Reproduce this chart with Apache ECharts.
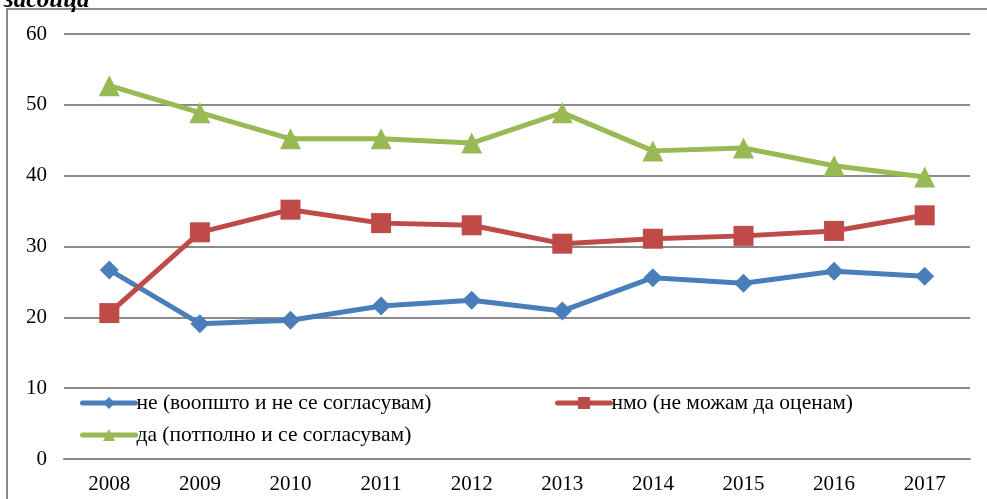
<!DOCTYPE html>
<html>
<head>
<meta charset="utf-8">
<script src="https://cdn.jsdelivr.net/npm/echarts@6/dist/echarts.min.js"></script>
<style>
  html, body { margin: 0; padding: 0; background: #fff; }
  #chart { width: 987px; height: 499px; }
</style>
</head>
<body>
<div id="chart"></div>
<script>
var years = ['2008', '2009', '2010', '2011', '2012', '2013', '2014', '2015', '2016', '2017'];
var neVals = [26.7, 19.1, 19.6, 21.6, 22.4, 20.9, 25.6, 24.8, 26.5, 25.8];
var nmoVals = [20.6, 32.0, 35.2, 33.3, 33.0, 30.4, 31.1, 31.5, 32.2, 34.4];
var daVals = [52.7, 48.9, 45.2, 45.2, 44.6, 48.9, 43.5, 43.9, 41.4, 39.8];
var names = ['не (воопшто и не се согласувам)', 'нмо (не можам да оценам)', 'да (потполно и се согласувам)'];

var chart = echarts.init(document.getElementById('chart'));
var font = 'Liberation Serif';

function legendAt(name, left, top) {
    return {
        data: [name],
        left: left,
        top: top,
        itemWidth: 53,
        itemHeight: 15,
        itemGap: 0,
        lineStyle: { width: 5, cap: 'round' },
        textStyle: { fontFamily: font, fontSize: 21.5, color: '#000', padding: [0, 0, 0, -4] }
    };
}

var option = {
    animation: false,
    graphic: [
        {
            type: 'rect',
            shape: { x: 7, y: 9, width: 1000, height: 520 },
            style: { fill: 'none', stroke: '#8a8a8a', lineWidth: 2 }
        },
        {
            type: 'text',
            left: 4,
            top: -12,
            style: { text: 'засоица', font: 'italic bold 25px "Liberation Serif"', fill: '#000' }
        }
    ],
    legend: [
        legendAt(names[0], 75, 387),
        legendAt(names[1], 550, 387),
        legendAt(names[2], 75, 419)
    ],
    grid: { left: 64, right: 17, top: 34, bottom: 40 },
    xAxis: {
        type: 'category',
        data: years,
        axisLine: { lineStyle: { color: '#8a8a8a', width: 2 } },
        axisTick: { show: false },
        axisLabel: { fontFamily: font, fontSize: 21, color: '#000', margin: 15 }
    },
    yAxis: {
        type: 'value',
        min: 0,
        max: 60,
        interval: 10,
        axisLine: { show: false },
        axisTick: { show: false },
        splitLine: { lineStyle: { color: '#8a8a8a', width: 2 } },
        axisLabel: { fontFamily: font, fontSize: 21, color: '#000', margin: 17 }
    },
    series: [
        {
            name: names[0], type: 'line', data: neVals,
            symbol: 'diamond', symbolSize: 19,
            lineStyle: { width: 5, color: '#4a7ebb' },
            itemStyle: { color: '#4a7ebb' }
        },
        {
            name: names[1], type: 'line', data: nmoVals,
            symbol: 'rect', symbolSize: 20,
            lineStyle: { width: 5, color: '#be4b48' },
            itemStyle: { color: '#be4b48' }
        },
        {
            name: names[2], type: 'line', data: daVals,
            symbol: 'triangle', symbolSize: 21,
            lineStyle: { width: 5, color: '#98b954' },
            itemStyle: { color: '#98b954' }
        }
    ]
};
chart.setOption(option);
</script>
</body>
</html>
